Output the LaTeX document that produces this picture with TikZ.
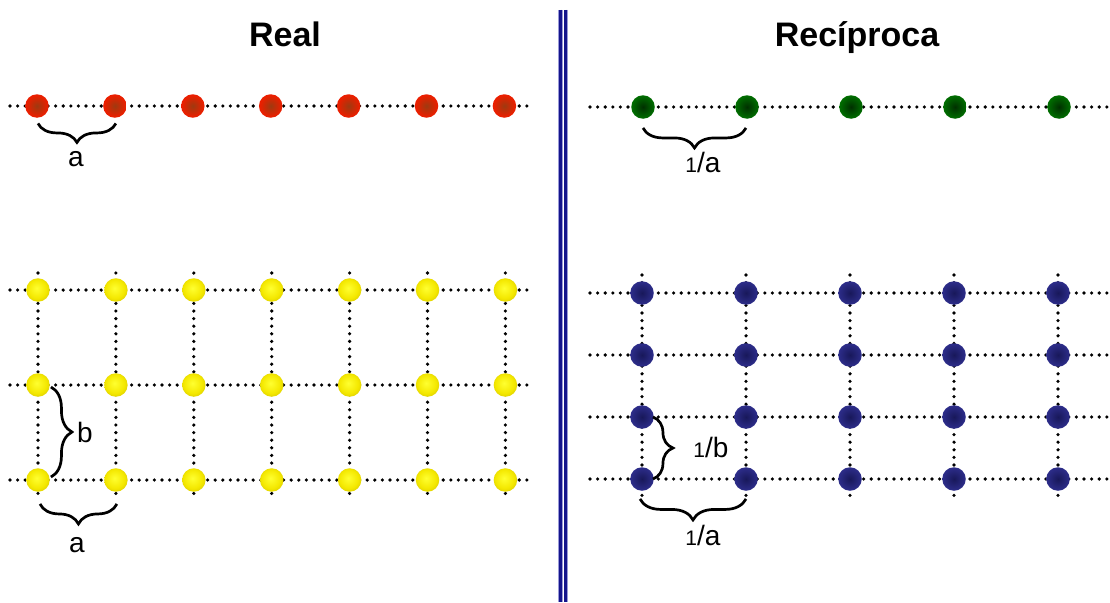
\documentclass[tikz,border=0pt]{standalone}
\usepackage{fontspec}
\setmainfont{Liberation Sans}
\usetikzlibrary{decorations.pathreplacing,backgrounds}
\definecolor{rcA}{HTML}{9E3A10}\definecolor{rcB}{HTML}{E82000}\definecolor{rcC}{HTML}{FF1200}\definecolor{rcD}{HTML}{FF5040}
\definecolor{ycA}{HTML}{FFFF30}\definecolor{ycB}{HTML}{F4E800}\definecolor{ycC}{HTML}{C0B000}\definecolor{ycD}{HTML}{968820}
\definecolor{gcA}{HTML}{003000}\definecolor{gcB}{HTML}{006C00}\definecolor{gcC}{HTML}{008800}\definecolor{gcD}{HTML}{40A040}
\definecolor{bcA}{HTML}{18185A}\definecolor{bcB}{HTML}{2C2C88}\definecolor{bcC}{HTML}{36369C}\definecolor{bcD}{HTML}{6A6ABA}
\definecolor{divdark}{HTML}{14148C}\definecolor{divlight}{HTML}{9A9AD8}
\pgfdeclareradialshading{redball}{\pgfpoint{0bp}{0bp}}{color(0bp)=(rcA); color(22bp)=(rcB); color(44bp)=(rcC); color(50bp)=(rcD)}
\pgfdeclareradialshading{yelball}{\pgfpoint{-3bp}{4bp}}{color(0bp)=(ycA); color(20bp)=(ycB); color(40bp)=(ycC); color(50bp)=(ycD)}
\pgfdeclareradialshading{grnball}{\pgfpoint{0bp}{0bp}}{color(0bp)=(gcA); color(24bp)=(gcB); color(44bp)=(gcC); color(50bp)=(gcD)}
\pgfdeclareradialshading{bluball}{\pgfpoint{0bp}{0bp}}{color(0bp)=(bcA); color(24bp)=(bcB); color(44bp)=(bcC); color(50bp)=(bcD)}
\begin{document}
\begin{tikzpicture}[x=1pt,y=-1pt,
  ball/.style={circle, minimum size=23.5pt, inner sep=0pt, shade},
  redb/.style={ball, shading=redball},
  yelb/.style={ball, shading=yelball},
  grnb/.style={ball, shading=grnball},
  blub/.style={ball, shading=bluball},
  dotline/.style={line width=3.6pt, line cap=round, dash pattern=on 0pt off 7.6pt, black},
  curly/.style={decorate, decoration={brace, amplitude=#1}, line width=2.7pt, black},
  titletext/.style={font=\fontsize{34}{40}\selectfont\bfseries, anchor=base, inner sep=0pt},
  lab/.style={font=\fontsize{28}{33}\selectfont, anchor=base, inner sep=0pt}]
\useasboundingbox (0,0) rectangle (1110,602);
% titles
\node[titletext] (tReal) at (285,47) {Real};
\node[titletext] (tRec) at (857,47) {Recíproca};
% divider
\coordinate (dvT) at (563,10);
\coordinate (dvB) at (563,602);
\draw[divlight, line width=10pt] (dvT) -- (dvB);
\draw[divdark, line width=3pt] ([xshift=-2.2pt]dvT) -- ([xshift=-2.2pt]dvB);
\draw[divdark, line width=2.6pt] ([xshift=2.4pt]dvT) -- ([xshift=2.4pt]dvB);
\draw[white, line width=1pt] ([xshift=0.6pt]dvT) -- ([xshift=0.6pt]dvB);
% red row
\foreach \i in {1,...,7} \node[redb] (r\i) at ({37+77.9*(\i-1)},106) {};
% yellow grid
\foreach \j/\yy in {1/290,2/385,3/480}
  \foreach \i in {1,...,7} \node[yelb] (y\j\i) at ({38+77.9*(\i-1)},\yy) {};
% green row
\foreach \i in {1,...,5} \node[grnb] (g\i) at ({643+104*(\i-1)},107) {};
% blue grid
\foreach \j/\yy in {1/293,2/355,3/417,4/479}
  \foreach \i in {1,...,5} \node[blub] (b\j\i) at ({642+104*(\i-1)},\yy) {};
% dotted lines behind
\begin{pgfonlayer}{background}
  \fill[white] (0,0) rectangle (1110,602);
  \coordinate (rL) at (10,106); \coordinate (rR) at (533,106);
  \draw[dotline] (rL) -- (rR);
  \coordinate (gL) at (590,107); \coordinate (gR) at (1112,107);
  \draw[dotline] (gL) -- (gR);
  \foreach \j/\yy in {1/290,2/385,3/480} {
    \coordinate (yL\j) at (10,\yy); \coordinate (yR\j) at (533,\yy);
    \draw[dotline] (yL\j) -- (yR\j);
  }
  \foreach \i in {1,...,7} {
    \coordinate (yT\i) at ({38+77.9*(\i-1)},273);
    \coordinate (yB\i) at ({38+77.9*(\i-1)},498);
    \draw[dotline] (yT\i) -- (yB\i);
  }
  \foreach \j/\yy in {1/293,2/355,3/417,4/479} {
    \coordinate (bL\j) at (590,\yy); \coordinate (bR\j) at (1112,\yy);
    \draw[dotline] (bL\j) -- (bR\j);
  }
  \foreach \i in {1,...,5} {
    \coordinate (bT\i) at ({642+104*(\i-1)},275);
    \coordinate (bB\i) at ({642+104*(\i-1)},496);
    \draw[dotline] (bT\i) -- (bB\i);
  }
\end{pgfonlayer}
% braces
\draw[curly=19pt] ([xshift=1pt,yshift=-5.5pt]r2.south) -- ([xshift=1pt,yshift=-5.5pt]r1.south);
\node[lab] (la1) at (76,166) {a};
\draw[curly=20pt] ([xshift=-1pt,yshift=-9pt]g2.south) -- ([yshift=-9pt]g1.south);
\node[lab] (la2) at (703,172) {{\fontsize{21}{24}\selectfont 1}/a};
\draw[curly=21pt] ([xshift=1pt,yshift=-2pt]y21.east) -- ([xshift=1pt,yshift=3pt]y31.east);
\node[lab] (lb1) at (85,442) {b};
\draw[curly=20pt] ([xshift=1pt,yshift=-12pt]y32.south) -- ([xshift=2pt,yshift=-12pt]y31.south);
\node[lab] (la3) at (77,552) {a};
\draw[curly=20pt] ([xshift=-1pt]b31.east) -- ([xshift=-1pt]b41.east);
\node[lab] (lb2) at (711,457) {{\fontsize{21}{24}\selectfont 1}/b};
\draw[curly=21pt] ([yshift=-8pt]b42.south) -- ([xshift=-2pt,yshift=-8pt]b41.south);
\node[lab] (la4) at (703,545) {{\fontsize{21}{24}\selectfont 1}/a};
\end{tikzpicture}
\end{document}
